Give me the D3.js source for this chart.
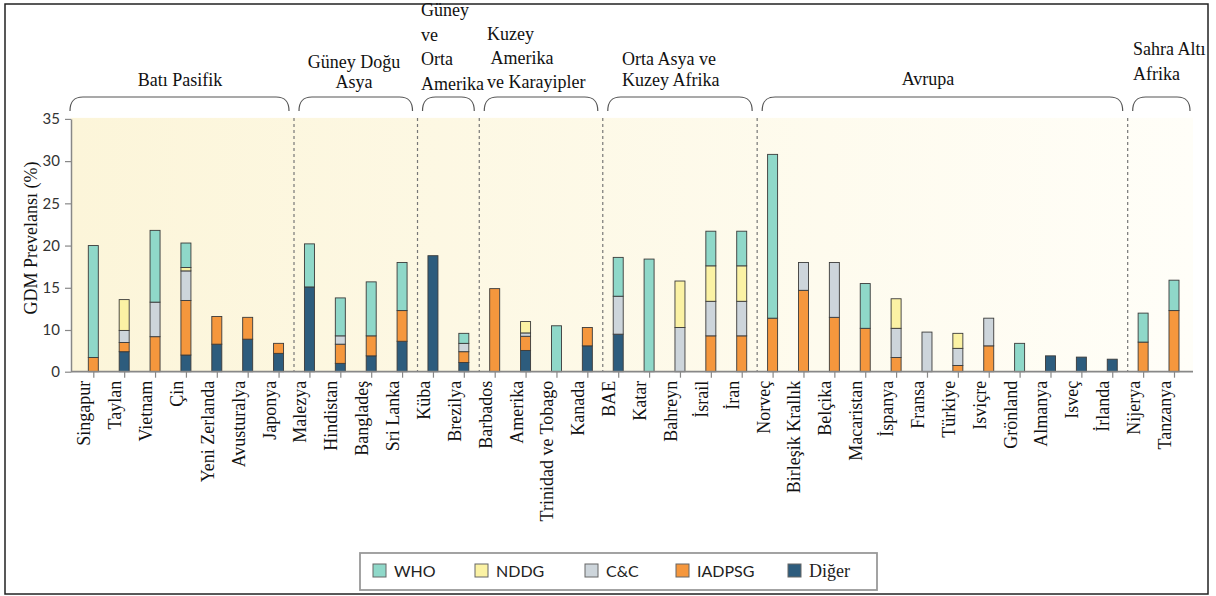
<!DOCTYPE html>
<html>
<head>
<meta charset="utf-8">
<script src="https://cdn.jsdelivr.net/npm/d3@7"></script>
<style>
  body { margin: 0; background: #fff; }
  svg { display: block; }
</style>
</head>
<body>
<script>
var countries = ["Singapur", "Taylan", "Vietnam", "Çin", "Yeni Zerlanda", "Avusturalya", "Japonya",
  "Malezya", "Hindistan", "Bangladeş", "Sri Lanka",
  "Küba", "Brezilya",
  "Barbados", "Amerika", "Trinidad ve Tobago", "Kanada",
  "BAE", "Katar", "Bahreyn", "İsrail", "İran",
  "Norveç", "Birleşik Krallık", "Belçika", "Macaristan", "İspanya", "Fransa", "Türkiye", "Isviçre", "Grönland", "Almanya", "Isveç", "İrlanda",
  "Nijerya", "Tanzanya"];

// region name lines and how many countries belong to it
var groupLines = [["Batı Pasifik"], ["Güney Doğu", "Asya"], ["Güney", "ve", "Orta", "Amerika"],
  ["Kuzey", " Amerika", "ve Karayipler"], ["Orta Asya ve", "Kuzey Afrika"], ["Avrupa"], ["Sahra Altı", "Afrika"]];
var groupSizes = [7, 4, 2, 4, 5, 12, 2];

var seriesNames = ["WHO", "NDDG", "C&C", "IADPSG", "Diğer"];

// value of each criterion per country (null = not reported)
var who = [20.0, null, 21.8, 20.3, null, null, null,
  20.2, 13.8, 15.7, 18.0,
  null, 9.2,
  null, null, 10.5, null,
  18.6, 18.4, null, 21.7, 21.7,
  30.8, null, null, 15.5, null, null, null, null, 6.8, null, null, null,
  12.0, 15.9];
var nddg = [null, 13.6, null, 17.4, null, null, null,
  null, null, null, null,
  null, null,
  null, 11.0, null, null,
  null, null, 15.8, 17.6, 17.6,
  null, null, null, null, 13.7, null, 9.2, null, null, null, null, null,
  null, null];
var cc = [null, 9.9, 13.3, 17.0, null, null, null,
  null, 8.6, null, null,
  null, 6.8,
  null, 9.3, null, null,
  14.0, null, 10.3, 13.4, 13.4,
  null, 18.0, 18.0, null, 10.2, 9.5, 5.6, 11.4, null, null, null, null,
  null, null];
var iadpsg = [3.4, 7.0, 8.4, 13.5, 11.6, 11.5, 6.8,
  null, 6.6, 8.6, 12.3,
  null, 4.8,
  14.9, 8.5, null, 10.3,
  null, null, null, 8.6, 8.6,
  11.4, 14.7, 11.5, 10.2, 3.4, null, 1.5, 6.2, null, null, null, null,
  7.1, 12.3];
var diger = [null, 4.8, null, 4.0, 6.6, 7.8, 4.4,
  15.1, 2.0, 3.8, 7.3,
  18.8, 2.2,
  null, 5.1, null, 6.2,
  9.0, null, null, null, null,
  null, null, null, null, null, null, null, null, null, 3.8, 3.5, 3.0,
  null, null];

var yTicks = [0, 10, 15, 20, 25, 30, 35];

var app = {
  init: function() {
    app.render();
  },
  render: function() {
    var width = 1216;
    var height = 596;
    var serif = "'Liberation Serif', 'Times New Roman', serif";
    var sans = "Lato, 'Open Sans', sans-serif";
    var colors = ["#8fd8c9", "#fbf2a4", "#cdd5db", "#f5973d", "#2d5c7d"];
    var seriesValues = [who, nddg, cc, iadpsg, diger];

    var svg = d3.select('body').append('svg')
      .attr('width', width)
      .attr('height', height);

    var left = 71, right = 1193, top = 118.9, base = 371.7;

    // outer frame
    svg.append('rect')
      .attr('x', 5).attr('y', 4).attr('width', 1203).attr('height', 590)
      .attr('fill', '#fff').attr('stroke', '#222').attr('stroke-width', 1.5);

    var grad = svg.append('defs').append('linearGradient')
      .attr('id', 'bg').attr('x1', 0).attr('x2', 1).attr('y1', 0).attr('y2', 0);
    grad.append('stop').attr('offset', 0).attr('stop-color', '#fcf5d9');
    grad.append('stop').attr('offset', 1).attr('stop-color', '#fffef8');

    svg.append('rect')
      .attr('x', left).attr('y', top - 1).attr('width', right - left).attr('height', base - top + 1)
      .attr('fill', 'url(#bg)');

    // the axis has ten units in its lowest step
    var y = d3.scaleLinear().domain([0, 10, 35]).range([base, 330, top]);
    var x = d3.scalePoint().domain(countries).range([93.3, 1174]);

    // group separators and brackets
    var seps = [];
    var start = 0;
    groupSizes.forEach(function(n, gi) {
      var end = start + n - 1;
      if (gi < groupSizes.length - 1) {
        seps.push((x(countries[end]) + x(countries[end + 1])) / 2);
      }
      start = end + 1;
    });

    svg.selectAll('line.sep').data(seps).enter().append('line')
      .attr('class', 'sep')
      .attr('x1', function(d) { return d; }).attr('x2', function(d) { return d; })
      .attr('y1', top - 1).attr('y2', base)
      .attr('stroke', '#777').attr('stroke-width', 1.2)
      .attr('stroke-dasharray', '3,3');

    var bounds = groupSizes.map(function(n, gi) {
      var x0 = gi === 0 ? 70 : seps[gi - 1] + 5;
      var x1 = gi === groupSizes.length - 1 ? 1190 : seps[gi] - 5;
      return [x0, x1];
    });

    var by0 = 97, by1 = 111;
    svg.selectAll('path.bracket').data(bounds).enter().append('path')
      .attr('class', 'bracket')
      .attr('d', function(b) {
        var x0 = b[0], x1 = b[1];
        return 'M' + x0 + ',' + by1 + ' C' + x0 + ',' + (by0 + 4) + ' ' + (x0 + 4) + ',' + by0 + ' ' + (x0 + 13) + ',' + by0 +
          ' L' + (x1 - 13) + ',' + by0 + ' C' + (x1 - 4) + ',' + by0 + ' ' + x1 + ',' + (by0 + 4) + ' ' + x1 + ',' + by1;
      })
      .attr('fill', 'none').attr('stroke', '#555').attr('stroke-width', 1.2);

    // group titles: anchor, x, first baseline, line step
    var titleLayout = [
      ['middle', 180, 86, 0],
      ['middle', 354, 68, 20],
      ['start', 421, 16, 24.5],
      ['start', 487, 40, 24],
      ['start', 622, 65, 21],
      ['middle', 928, 85, 0],
      ['start', 1133, 55, 25]
    ];
    groupLines.forEach(function(lines, gi) {
      var lay = titleLayout[gi];
      var t = svg.append('text')
        .attr('text-anchor', lay[0])
        .attr('font-family', serif).attr('font-size', 18).attr('fill', '#111')
        .attr('xml:space', 'preserve');
      lines.forEach(function(line, li) {
        t.append('tspan').attr('x', lay[1]).attr('y', lay[2] + li * lay[3]).text(line);
      });
    });

    // bars: each criterion value is the top of its segment
    var barW = 10;
    countries.forEach(function(c, ci) {
      var vals = [];
      seriesValues.forEach(function(arr, si) {
        if (arr[ci] !== null) vals.push({ s: si, v: arr[ci] });
      });
      vals.sort(function(a, b) { return a.v - b.v; });
      var prev = 0;
      var segs = vals.map(function(d) {
        var seg = { s: d.s, lo: prev, hi: d.v };
        prev = d.v;
        return seg;
      });
      svg.selectAll(null).data(segs).enter().append('rect')
        .attr('x', x(c) - barW / 2)
        .attr('width', barW)
        .attr('y', function(d) { return y(d.hi); })
        .attr('height', function(d) { return y(d.lo) - y(d.hi); })
        .attr('fill', function(d) { return colors[d.s]; })
        .attr('stroke', '#3a3a3a').attr('stroke-width', 0.9);
    });

    // y axis
    var yAxis = svg.append('g')
      .attr('transform', 'translate(' + left + ',0)')
      .call(d3.axisLeft(y).tickValues(yTicks).tickSize(6).tickSizeOuter(0).tickPadding(5));
    yAxis.select('.domain').attr('stroke', '#888').attr('stroke-width', 1.5);
    yAxis.selectAll('.tick line').attr('stroke', '#888').attr('stroke-width', 1.2);
    yAxis.selectAll('.tick text').attr('font-family', sans).attr('font-size', 15).attr('fill', '#333');

    svg.append('text')
      .attr('transform', 'translate(31,238) rotate(-90)')
      .attr('text-anchor', 'middle').attr('dy', '0.35em')
      .attr('font-family', serif).attr('font-size', 18).attr('fill', '#111')
      .text('GDM Prevelansı (%)');

    // x axis
    svg.append('line')
      .attr('x1', left).attr('x2', right).attr('y1', base).attr('y2', base)
      .attr('stroke', '#888').attr('stroke-width', 1.8);
    var xAxis = svg.append('g')
      .attr('transform', 'translate(0,' + base + ')')
      .call(d3.axisBottom(x).tickSize(6).tickSizeOuter(0));
    xAxis.select('.domain').remove();
    xAxis.selectAll('.tick line').attr('stroke', '#888').attr('stroke-width', 1.2);
    xAxis.selectAll('.tick text')
      .attr('font-family', serif).attr('font-size', 18).attr('fill', '#111')
      .attr('text-anchor', 'end')
      .attr('transform', 'translate(0,9) rotate(-90)')
      .attr('x', 0).attr('y', 0).attr('dy', -3.5);

    // legend
    svg.append('rect')
      .attr('x', 360).attr('y', 553).attr('width', 517).attr('height', 37)
      .attr('fill', '#fff').attr('stroke', '#999').attr('stroke-width', 1.8);
    var legendX = [373, 475, 585, 676, 788];
    var legend = svg.selectAll('g.leg').data(seriesNames).enter().append('g')
      .attr('class', 'leg')
      .attr('transform', function(d, i) { return 'translate(' + legendX[i] + ',564)'; });
    legend.append('rect')
      .attr('width', 13).attr('height', 13)
      .attr('fill', function(d, i) { return colors[i]; })
      .attr('stroke', '#666').attr('stroke-width', 1);
    legend.append('text')
      .attr('x', 21).attr('y', 7).attr('dy', '0.35em')
      .attr('font-family', function(d, i) { return i === 4 ? serif : sans; })
      .attr('font-size', function(d, i) { return i === 4 ? 18 : 16; })
      .attr('fill', '#222')
      .text(function(d) { return d; });
  }
};
app.init();
</script>
</body>
</html>
